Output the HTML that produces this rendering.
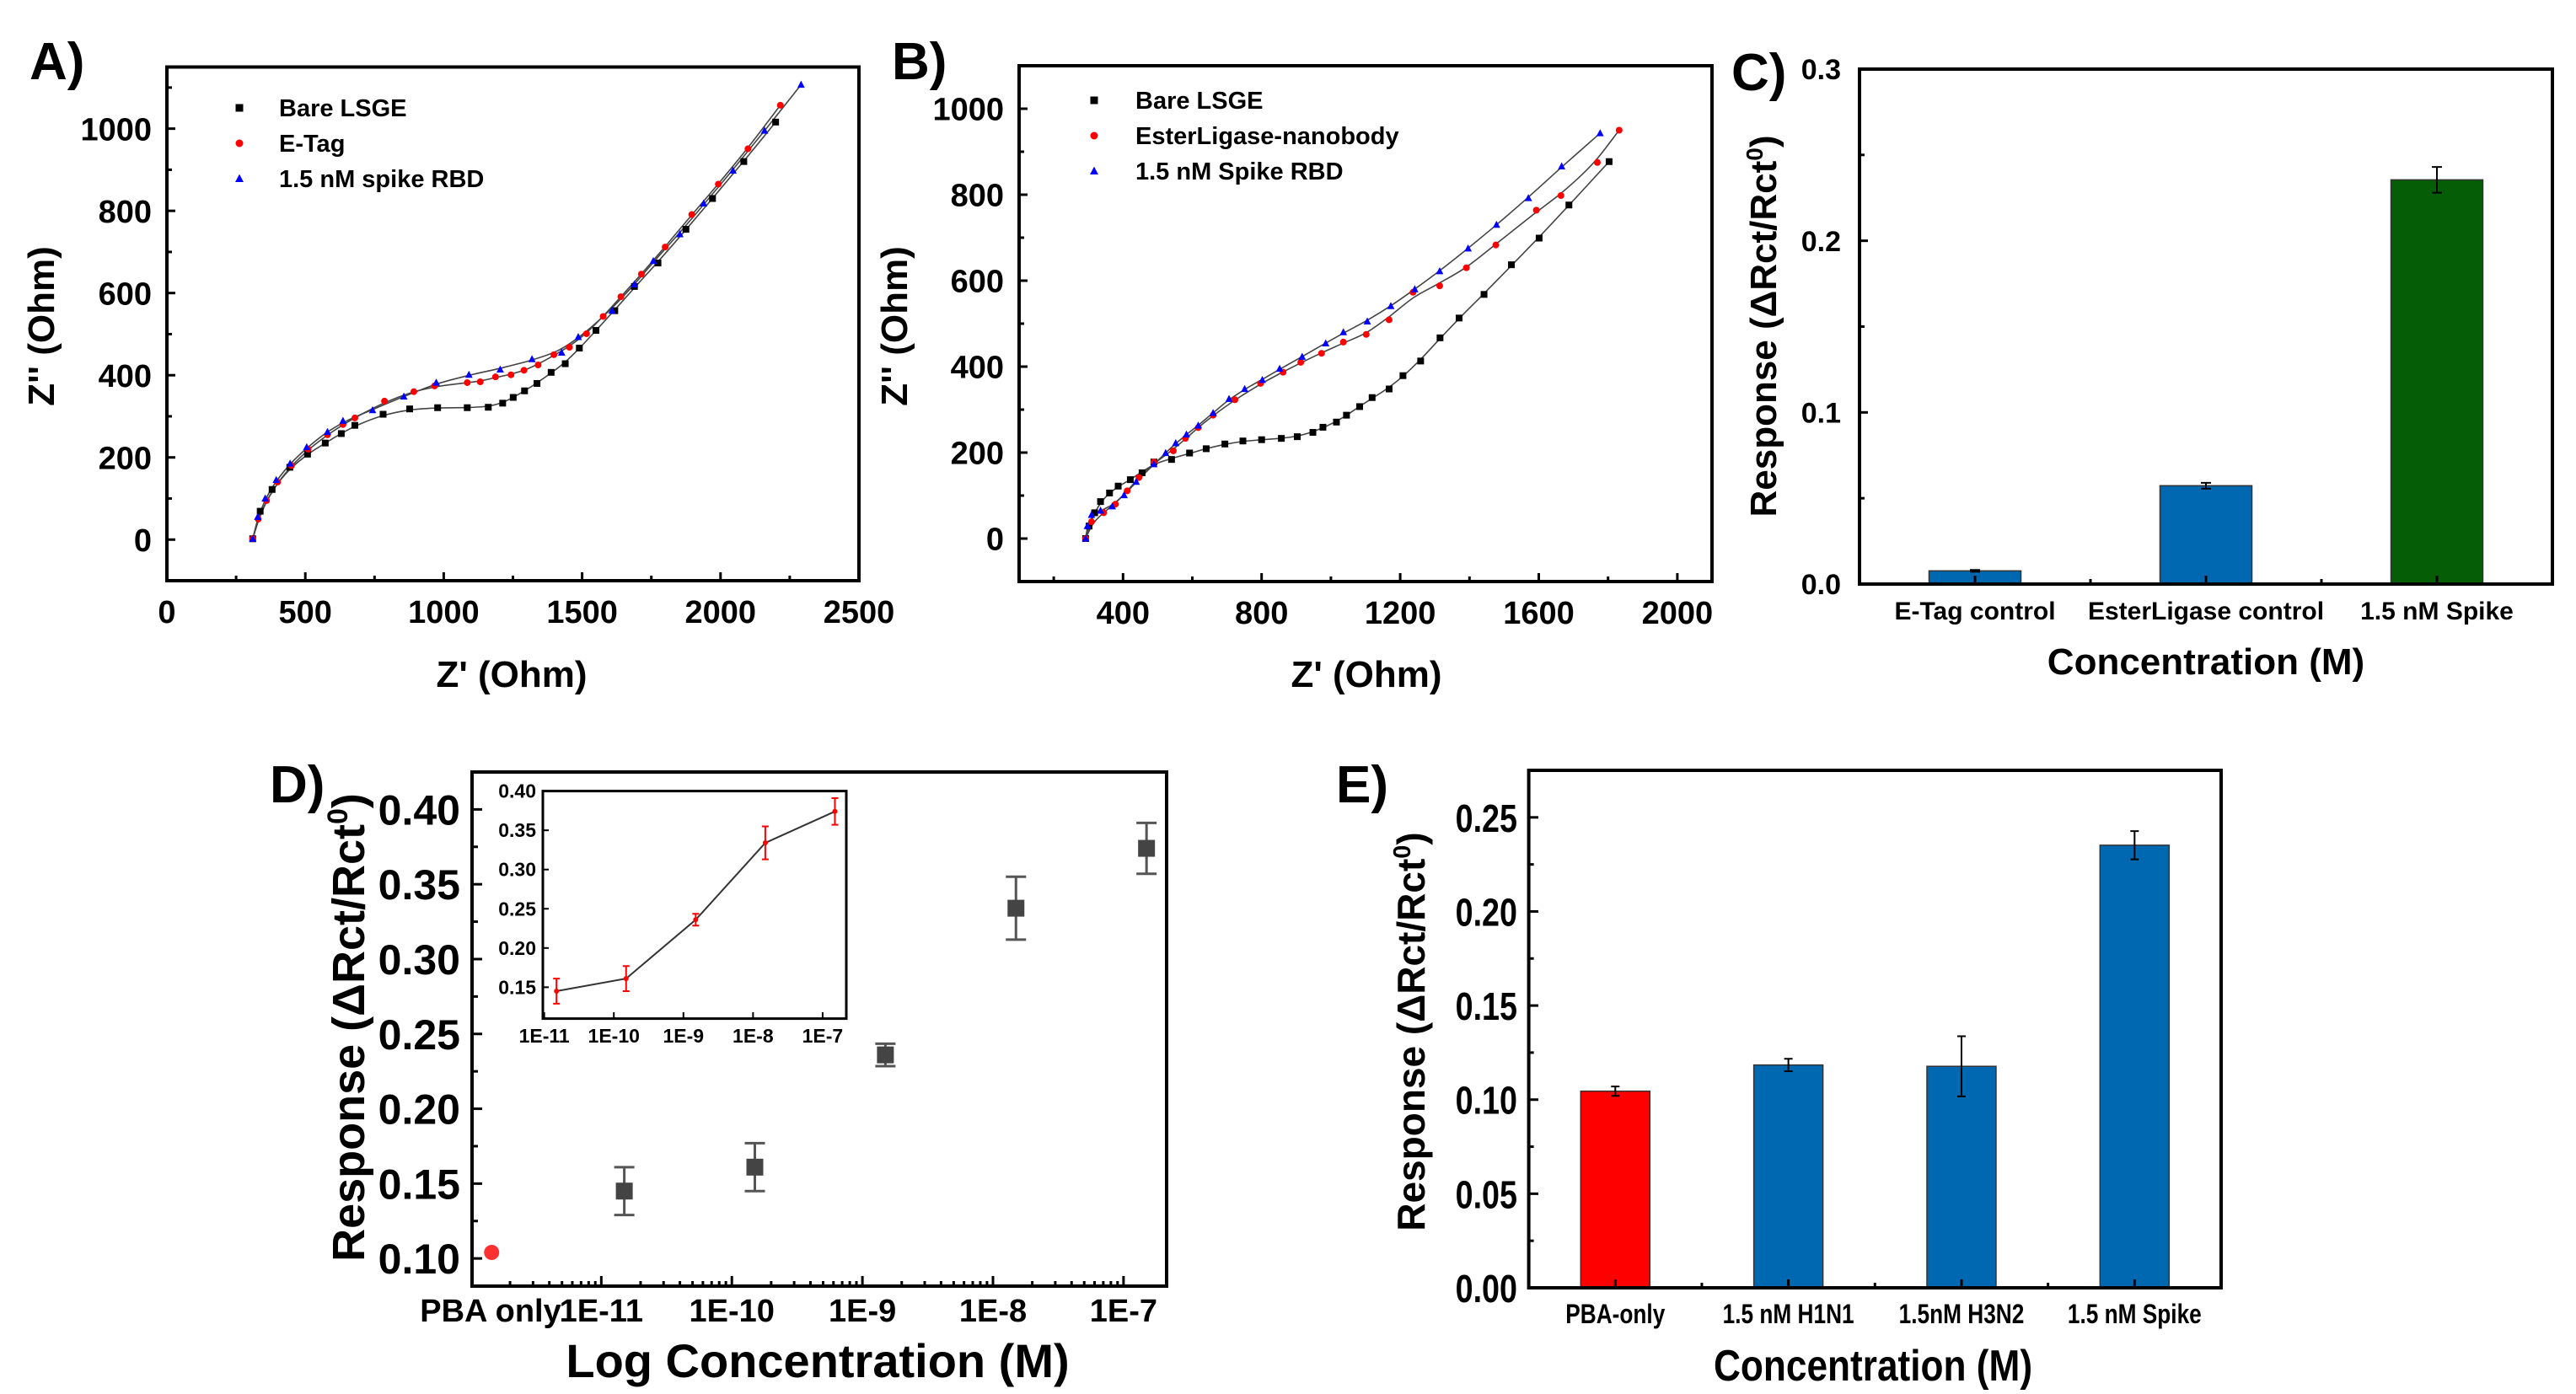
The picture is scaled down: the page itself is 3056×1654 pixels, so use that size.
<!DOCTYPE html>
<html><head><meta charset="utf-8"><style>
html,body{margin:0;padding:0;background:#fff;}
svg{display:block;font-family:"Liberation Sans",Arial,sans-serif;font-weight:bold;}
</style></head><body>
<svg id="fig" width="3056" height="1654" viewBox="0 0 3056 1654" xmlns="http://www.w3.org/2000/svg"></svg>
<script>
// ---------- DATA ----------
const aBareX=[310,337,380,444,508,572,630,679,781,877,978,1085,1161,1213,1251,1292,1337,1388,1439,1490,1550,1618,1689,1774,1875,1971,2084,2199];
const aBareY=[2,69,122,176,208,235,258,278,305,318,321,321,322,332,346,362,380,407,428,466,509,557,616,673,755,830,920,1016];
const aETagX=[310,330,360,400,450,510,580,636,679,786,892,967,1085,1132,1187,1243,1290,1341,1398,1454,1516,1576,1640,1714,1800,1896,1992,2099,2216];
const aETagY=[2,50,95,140,180,220,255,280,296,337,360,374,382,384,396,401,412,425,450,468,501,543,591,646,712,791,865,951,1057];
const aSpikeX=[310,328,355,395,445,505,580,636,743,856,973,1091,1204,1319,1426,1486,1608,1689,1757,1853,1939,2045,2159,2291];
const aSpikeY=[2,55,100,145,185,225,262,289,315,348,382,401,414,439,455,493,557,621,678,743,818,898,995,1107];
const bBareX=[292,302,318,335,361,386,421,455,489,540,592,640,694,746,800,857,903,948,977,1016,1045,1083,1119,1168,1208,1259,1315,1370,1442,1521,1601,1687,1803];
const bBareY=[0,29,60,86,106,122,137,153,178,184,199,209,220,227,230,233,237,247,259,271,287,307,328,348,379,413,467,513,568,637,699,776,877];
const bEsterX=[292,309,344,378,412,446,489,545,580,617,660,723,797,862,913,973,1036,1102,1168,1237,1314,1391,1476,1593,1664,1769,1832];
const bEsterY=[0,39,60,80,111,142,178,204,233,258,287,323,361,387,410,431,457,475,509,573,588,630,683,764,798,875,950];
const bSpikeX=[292,297,309,335,369,403,438,489,523,552,583,617,660,706,751,802,852,917,985,1036,1105,1173,1242,1314,1396,1478,1570,1666,1777];
const bSpikeY=[0,29,55,65,75,101,132,173,199,222,242,263,292,325,348,369,395,423,454,480,505,541,580,622,675,730,792,866,943];
const cCategories=["E-Tag control","EsterLigase control","1.5 nM Spike"];
const cValues=[0.0077,0.0573,0.2355];
const cErrors=[0.0005,0.0017,0.0075];
const cColors=["#0068b0","#0068b0","#055e05"];
const dConc=[1.5e-11,1.5e-10,1.5e-9,1.5e-8,1.5e-7];
const dResp=[0.145,0.161,0.236,0.334,0.374];
const dErr=[0.016,0.016,0.0075,0.021,0.017];
const dPbaResp=0.104;
const dPbaErr=0.002;
const dXTickLabels=["1E-11","1E-10","1E-9","1E-8","1E-7"];
const eCategories=["PBA-only","1.5 nM H1N1","1.5nM H3N2","1.5 nM Spike"];
const eValues=[0.1045,0.1184,0.1177,0.2352];
const eErrors=[0.0025,0.0033,0.016,0.0075];
const eColors=["#ff0000","#0068b0","#0068b0","#0068b0"];

// ---------- HELPERS ----------
const NS="http://www.w3.org/2000/svg";
const svg=document.getElementById('fig');
function mk(tag,attrs,parent){const e=document.createElementNS(NS,tag);for(const k in attrs)e.setAttribute(k,attrs[k]);(parent||svg).appendChild(e);return e;}
function txt(s,x,y,size,anchor,parent,extra){const t=mk('text',Object.assign({x:x,y:y,'font-size':size,'text-anchor':anchor||'middle',fill:'#000'},extra||{}),parent);t.textContent=s;return t;}
function lin(d0,d1,r0,r1){return v=>r0+(v-d0)/(d1-d0)*(r1-r0);}
function frame(g,x0,y0,x1,y1){const r=mk('rect',{x:x0,y:y0,width:x1-x0,height:y1-y0,fill:'none',stroke:'#000','stroke-width':4},g);}
function yTicks(g,vals,sy,x0,len,labels,size,dx,extra){vals.forEach((v,i)=>{const y=sy(v);const l=mk('line',{x1:x0,x2:x0+len,y1:y,y2:y,stroke:'#000','stroke-width':3},g);if(labels){const t=txt(labels[i],x0-dx,y+size*0.36,size,'end',g,extra);}});}
function xTicks(g,vals,sx,y0,len,labels,size,dy,extra){vals.forEach((v,i)=>{const x=sx(v);const l=mk('line',{x1:x,x2:x,y1:y0,y2:y0-len,stroke:'#000','stroke-width':3},g);if(labels){const t=txt(labels[i],x,y0+dy,size,'middle',g,extra);}});}
function marker(g,shape,x,y,s,color){let e;if(shape==='sq')e=mk('rect',{x:x-s/2,y:y-s/2,width:s,height:s,fill:color},g);else if(shape==='ci')e=mk('circle',{cx:x,cy:y,r:s/2,fill:color},g);else e=mk('polygon',{points:(x)+','+(y-s*0.6)+' '+(x-s*0.55)+','+(y+s*0.45)+' '+(x+s*0.55)+','+(y+s*0.45),fill:color},g);return e;}
function range(a,b,s){const r=[];for(let v=a;v<=b+1e-9;v+=s)r.push(+v.toFixed(6));return r;}
// smoothing: moving average of screen points then catmull-rom
function smoothPath(P){
 const S=P.map((p,i)=>{if(i===0||i===P.length-1)return p;const a=P[i-1],c=P[i+1];return [(a[0]+2*p[0]+c[0])/4,(a[1]+2*p[1]+c[1])/4];});
 let d='M'+S[0][0]+','+S[0][1];
 for(let i=0;i<S.length-1;i++){const p0=S[Math.max(0,i-1)],p1=S[i],p2=S[i+1],p3=S[Math.min(S.length-1,i+2)];
  const c1=[p1[0]+(p2[0]-p0[0])/6,p1[1]+(p2[1]-p0[1])/6],c2=[p2[0]-(p3[0]-p1[0])/6,p2[1]-(p3[1]-p1[1])/6];
  d+=`C${c1[0]},${c1[1]} ${c2[0]},${c2[1]} ${p2[0]},${p2[1]}`;}
 return d;}

function scatterPanel(g,series,sx,sy){
 series.forEach(s=>{
  const P=s[0].map((v,i)=>[sx(v),sy(s[1][i])]);
  const pl=mk('path',{d:smoothPath(P),fill:'none',stroke:'#444','stroke-width':1.6},g);
 });
 series.forEach(s=>{
  s[0].forEach((v,i)=>{const m=marker(g,s[2],sx(v),sy(s[1][i]),8,s[3]);});
 });
}

// ---------- PANEL A ----------
(function(){
const g=mk('g',{});
const sx=lin(0,2500,198,1019),sy=lin(-100,1150,689,79.5);
const lbl=txt('A)',35,94,62,'start',g);
scatterPanel(g,[[aBareX,aBareY,'sq','#000','bare-lsge'],[aETagX,aETagY,'ci','#ff0000','e-tag'],[aSpikeX,aSpikeY,'tr','#0000ff','spike-rbd']],sx,sy);
frame(g,198,79.5,1019,689);
yTicks(g,range(0,1000,200),sy,198,10,range(0,1000,200).map(String),38,18);
yTicks(g,range(-100,1100,200),sy,198,6,null);
xTicks(g,range(0,2500,500),sx,689,10,range(0,2500,500).map(String),38,50);
xTicks(g,range(250,2250,500),sx,689,6,null);
const xl=txt("Z' (Ohm)",607,815,44,'middle',g);
const yl=txt("Z'' (Ohm)",0,0,44,'middle',g,{transform:'translate(64,387) rotate(-90)'});
[['Bare LSGE','sq','#000'],['E-Tag','ci','#ff0000'],['1.5 nM spike RBD','tr','#0000ff']].forEach((L,i)=>{const y=128+i*42;const m=marker(g,L[1],284,y,9,L[2]);const t=txt(L[0],331,y+10,29,'start',g);});
})();

// ---------- PANEL B ----------
(function(){
const g=mk('g',{});
const sx=lin(100,2100,1209,2031),sy=lin(-100,1100,690,78);
const lbl=txt('B)',1058,94,62,'start',g);
scatterPanel(g,[[bBareX,bBareY,'sq','#000','bare-lsge'],[bEsterX,bEsterY,'ci','#ff0000','esterligase-nanobody'],[bSpikeX,bSpikeY,'tr','#0000ff','spike-rbd']],sx,sy);
frame(g,1209,78,2031,690);
yTicks(g,range(0,1000,200),sy,1209,10,range(0,1000,200).map(String),38,18);
yTicks(g,range(-100,1100,200),sy,1209,6,null);
xTicks(g,range(400,2000,400),sx,690,10,range(400,2000,400).map(String),38,50);
xTicks(g,range(200,1800,400),sx,690,6,null);
const xl=txt("Z' (Ohm)",1621,815,44,'middle',g);
const yl=txt("Z'' (Ohm)",0,0,44,'middle',g,{transform:'translate(1076,387) rotate(-90)'});
[['Bare LSGE','sq','#000'],['EsterLigase-nanobody','ci','#ff0000'],['1.5 nM Spike RBD','tr','#0000ff']].forEach((L,i)=>{const y=119+i*42;const m=marker(g,L[1],1298,y,9,L[2]);const t=txt(L[0],1347,y+10,29,'start',g);});
})();

// ---------- PANEL C ----------
(function(){
const g=mk('g',{});
const sx=lin(0.5,3.5,2206,3028),sy=lin(0,0.3,693,82);
const lbl=txt('C)',2054,107,62,'start',g);
const bw=109;
cValues.forEach((v,i)=>{const x=sx(i+1);const b=mk('rect',{x:x-bw/2,y:sy(v),width:bw,height:sy(0)-sy(v),fill:cColors[i],stroke:'#333','stroke-width':1.5},g);
 const e=mk('path',{d:`M${x},${sy(v+cErrors[i])}V${sy(v-cErrors[i])}M${x-6},${sy(v+cErrors[i])}H${x+6}M${x-6},${sy(v-cErrors[i])}H${x+6}`,stroke:'#000','stroke-width':2,fill:'none'},g);
 const t=txt(cCategories[i],x,735,30,'middle',g);});
frame(g,2206,82,3028,693);
yTicks(g,[0,0.1,0.2,0.3],sy,2206,10,['0.0','0.1','0.2','0.3'],34,22);
yTicks(g,[0.05,0.15,0.25],sy,2206,6,null);
xTicks(g,[1,2,3],sx,693,10,null);
xTicks(g,[1.5,2.5],sx,693,6,null);
const xl=txt('Concentration (M)',2617,800,44,'middle',g);
const yl=mk('text',{x:0,y:0,'font-size':44,'text-anchor':'middle',transform:'translate(2107,387) rotate(-90)'},g);yl.innerHTML='Response (\u0394Rct/Rct<tspan dy="-16" font-size="28">0</tspan><tspan dy="16">)</tspan>';
})();

// ---------- PANEL D ----------
(function(){
const g=mk('g',{});
const sxl=lin(-11.99,-6.67,560,1384),sy=lin(0.0815,0.425,1526,916);
const sx=c=>sxl(Math.log10(c));
const lbl=txt('D)',320,952,62,'start',g);
frame(g,560,916,1384,1526);
const yv=range(0.10,0.40,0.05);
yTicks(g,yv,sy,560,12,yv.map(v=>v.toFixed(2)),50,14);
yTicks(g,range(0.125,0.425,0.05),sy,560,7,null);
const dec=[-11,-10,-9,-8,-7];
xTicks(g,dec.map(d=>Math.pow(10,d)),sx,1526,12,dXTickLabels,38,42);
const minors=[];for(let d=-12;d<=-7;d++)for(let k=2;k<=9;k++){const c=k*Math.pow(10,d);if(Math.log10(c)>-11.7&&Math.log10(c)<-6.7)minors.push(c);}
xTicks(g,minors,sx,1526,6,null);
const pb=txt('PBA only',582,1568,38,'middle',g);
const px=sxl(-11.84);
const pm=mk('circle',{cx:px,cy:sy(dPbaResp),r:9,fill:'#ff3030'},g);
dConc.forEach((c,i)=>{const x=sx(c),y=sy(dResp[i]);const e=mk('path',{d:`M${x},${sy(dResp[i]+dErr[i])}V${sy(dResp[i]-dErr[i])}M${x-12},${sy(dResp[i]+dErr[i])}H${x+12}M${x-12},${sy(dResp[i]-dErr[i])}H${x+12}`,stroke:'#555','stroke-width':3,fill:'none'},g);
 const m=mk('rect',{x:x-10,y:y-10,width:20,height:20,fill:'#444'},g);});
const xl=txt('Log Concentration (M)',970,1634,56,'middle',g);
const yl=mk('text',{x:0,y:0,'font-size':54,'text-anchor':'middle',transform:'translate(432,1219) rotate(-90)'},g);yl.innerHTML='Response (\u0394Rct/Rct<tspan dy="-20" font-size="34">0</tspan><tspan dy="20">)</tspan>';
// inset
const ig=mk('g',{},g);
const isxl=lin(-11.02,-6.66,644,1004),isy=lin(0.11,0.40,1208.6,938.6);
const isx=c=>isxl(Math.log10(c));
mk('rect',{x:644,y:938.6,width:360,height:270,fill:'#fff'},ig);
const ir=mk('rect',{x:644,y:938.6,width:360,height:270,fill:'none',stroke:'#000','stroke-width':3},ig);
range(0.15,0.40,0.05).forEach(v=>{const y=isy(v);const l=mk('line',{x1:644,x2:651,y1:y,y2:y,stroke:'#000','stroke-width':2},ig);const t=txt(v.toFixed(2),636,y+8,23,'end',ig);});
dec.forEach((d,i)=>{const x=isxl(d);const l=mk('line',{x1:x,x2:x,y1:1208.6,y2:1201,stroke:'#000','stroke-width':2},ig);const t=txt(dXTickLabels[i],x,1237,23,'middle',ig);});
const ipl=mk('polyline',{points:dConc.map((c,i)=>isx(c)+','+isy(dResp[i])).join(' '),fill:'none',stroke:'#333','stroke-width':2},ig);
dConc.forEach((c,i)=>{const x=isx(c);const e=mk('path',{d:`M${x},${isy(dResp[i]+dErr[i])}V${isy(dResp[i]-dErr[i])}M${x-4},${isy(dResp[i]+dErr[i])}H${x+4}M${x-4},${isy(dResp[i]-dErr[i])}H${x+4}`,stroke:'#ff0000','stroke-width':2,fill:'none'},ig);
 const m=mk('circle',{cx:x,cy:isy(dResp[i]),r:3,fill:'#ff0000'},ig);});
})();

// ---------- PANEL E ----------
(function(){
const g=mk('g',{});
const sx=lin(0.5,4.5,1813.6,2635),sy=lin(0,0.275,1528,914);
const lbl=txt('E)',1585,952,62,'start',g);
const bw=82;
eValues.forEach((v,i)=>{const x=sx(i+1);const b=mk('rect',{x:x-bw/2,y:sy(v),width:bw,height:sy(0)-sy(v),fill:eColors[i],stroke:'#333','stroke-width':1.5},g);
 const e=mk('path',{d:`M${x},${sy(v+eErrors[i])}V${sy(v-eErrors[i])}M${x-5},${sy(v+eErrors[i])}H${x+5}M${x-5},${sy(v-eErrors[i])}H${x+5}`,stroke:'#000','stroke-width':2,fill:'none'},g);
 const t=txt(eCategories[i],0,0,32,'middle',g,{transform:`translate(${x},1570) scale(0.82,1)`});});
frame(g,1813.6,914,2635,1528);
const yv=range(0,0.25,0.05);
yv.forEach(v=>{const y=sy(v);const l=mk('line',{x1:1813.6,x2:1825,y1:y,y2:y,stroke:'#000','stroke-width':3},g);const t=txt(v.toFixed(2),0,0,46,'end',g,{transform:`translate(1800,${y+17}) scale(0.82,1)`});});
yTicks(g,range(0.025,0.275,0.05),sy,1813.6,6,null);
xTicks(g,[1,2,3,4],sx,1528,10,null);
xTicks(g,[1.5,2.5,3.5],sx,1528,6,null);
const xl=txt('Concentration (M)',0,0,52,'middle',g,{transform:'translate(2222,1638) scale(0.85,1)'});
const yl=mk('text',{x:0,y:0,'font-size':46,'text-anchor':'middle',transform:'translate(1690,1224) rotate(-90)'},g);yl.innerHTML='Response (\u0394Rct/Rct<tspan dy="-17" font-size="29">0</tspan><tspan dy="17">)</tspan>';
})();
</script>
</body></html>
